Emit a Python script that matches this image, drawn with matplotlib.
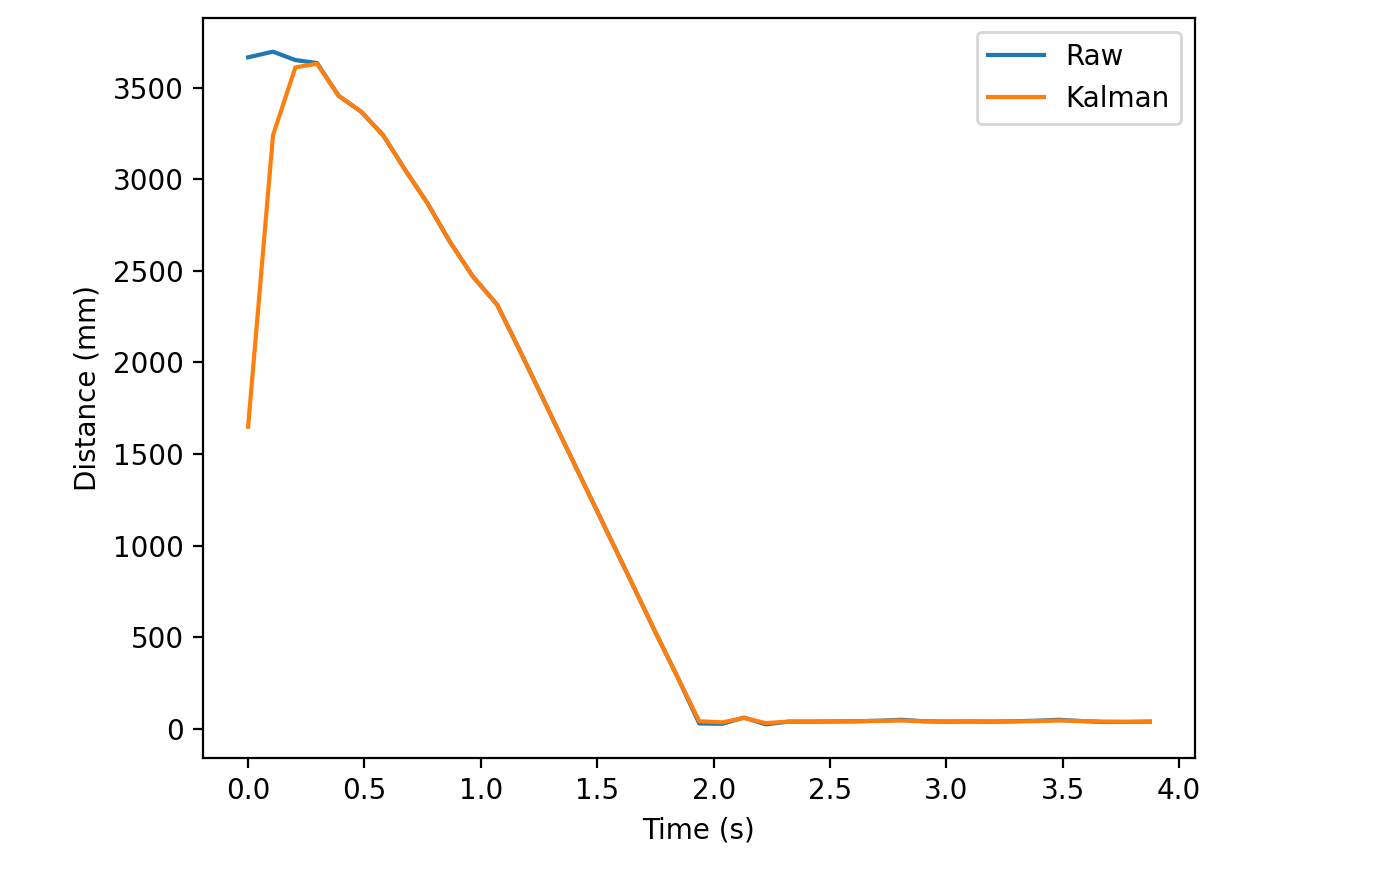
import matplotlib
matplotlib.use("Agg")
import matplotlib.pyplot as plt

# time stamps (s)
time_s = [0.000, 0.107, 0.203, 0.296, 0.389, 0.486, 0.580, 0.675, 0.770, 0.866,
          0.965, 1.070, 1.167, 1.264, 1.360, 1.457, 1.554, 1.651, 1.747, 1.844,
          1.938, 2.037, 2.130, 2.224, 2.323, 2.420, 2.516, 2.613, 2.710, 2.807,
          2.903, 3.000, 3.097, 3.194, 3.290, 3.387, 3.484, 3.581, 3.677, 3.774,
          3.874]

raw_mm = [3665, 3696, 3650, 3634, 3455, 3368, 3240, 3050, 2870, 2660,
          2470, 2315, 2065, 1810, 1555, 1300, 1045, 790, 535, 285,
          30, 28, 62, 25, 40, 40, 41, 42, 45, 50,
          42, 40, 41, 40, 42, 45, 50, 43, 38, 38,
          40]

kalman_mm = [1649, 3239, 3610, 3630, 3455, 3368, 3240, 3050, 2870, 2660,
             2470, 2315, 2065, 1810, 1555, 1300, 1045, 790, 535, 285,
             42, 36, 60, 32, 40, 40, 41, 42, 44, 46,
             42, 40, 41, 40, 41, 43, 46, 43, 40, 39,
             40]


def create_graph():
    fig = plt.figure(figsize=(6.87, 4.44), dpi=200)
    ax = fig.add_axes([203 / 1374, 130 / 888, 992 / 1374, 740 / 888])
    ax.plot(time_s, raw_mm, label="Raw")
    ax.plot(time_s, kalman_mm, label="Kalman")
    ax.set_xlabel("Time (s)")
    ax.set_ylabel("Distance (mm)")
    ax.legend(loc="upper right")
    fig.savefig("out.png", dpi=200)


if __name__ == "__main__":
    create_graph()
